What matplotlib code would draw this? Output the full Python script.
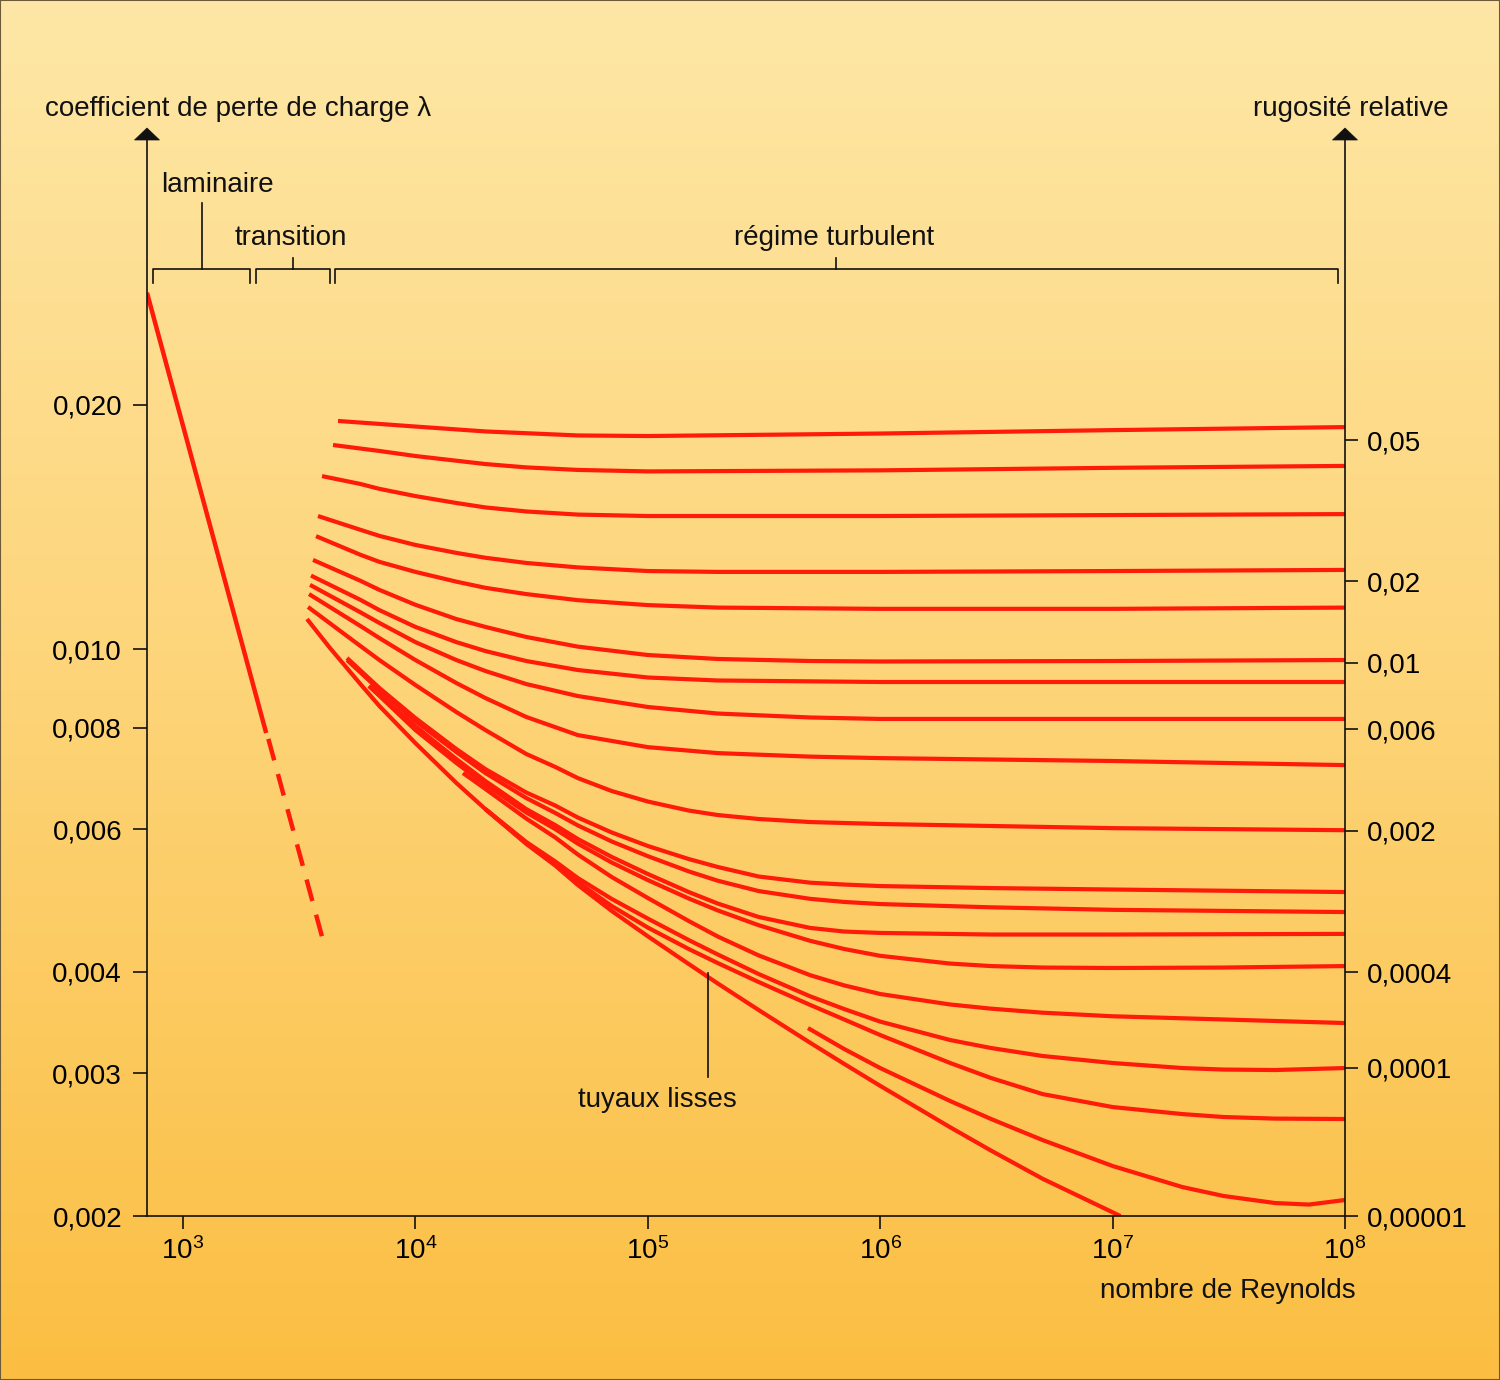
import numpy as np
import matplotlib
matplotlib.use("Agg")
import matplotlib.pyplot as plt
from matplotlib.patches import Polygon, Rectangle
from matplotlib.ticker import NullLocator

plt.rcParams['font.family'] = ['Liberation Sans', 'DejaVu Sans']
plt.rcParams['mathtext.fontset'] = 'custom'
plt.rcParams['mathtext.rm'] = 'Liberation Sans'
plt.rcParams['mathtext.it'] = 'Liberation Sans'

RED = '#ff1a0a'
INK = '#111111'
FS = 20

# axes ticks
re_ticks = [1e3, 1e4, 1e5, 1e6, 1e7, 1e8]
re_labels = ['$10^{3}$', '$10^{4}$', '$10^{5}$', '$10^{6}$', '$10^{7}$', '$10^{8}$']
lam_ticks = [0.002, 0.003, 0.004, 0.006, 0.008, 0.010, 0.020]
lam_labels = ['0,002', '0,003', '0,004', '0,006', '0,008', '0,010', '0,020']
rug_ticks = [0.002, 0.003045, 0.003998, 0.005967, 0.00797, 0.009614, 0.01213, 0.0181]
rug_labels = ['0,00001', '0,0001', '0,0004', '0,002', '0,006', '0,01', '0,02', '0,05']

# regimes (Reynolds bounds of the brackets)
regime_names = ['laminaire', 'transition', 'régime turbulent']
regime_bounds = [(740, 1950), (2060, 4300), (4500, 9.3e7)]

# laminar line
lam_re = [700, 2280]
lam_lam = [0.0275, 0.00788]
lam_dash_re = [2330, 4000]
lam_dash_lam = [0.00775, 0.00438]

# turbulent curves
c01_re = [4645, 7000, 1e4, 2e4, 5e4, 1e5, 1e6, 1e7, 1e8]
c01_lam = [0.01911, 0.01895, 0.01881, 0.01855, 0.01834, 0.01831, 0.01844, 0.01862, 0.01878]
c02_re = [4421, 7000, 1e4, 2e4, 3e4, 5e4, 1e5, 1e6, 1e7, 1e8]
c02_lam = [0.01785, 0.01755, 0.01730, 0.01691, 0.01675, 0.01663, 0.01656, 0.01661, 0.01673, 0.01682]
c03_re = [3964, 5800, 7000, 1e4, 1.5e4, 2e4, 3e4, 5e4, 1e5, 1e6, 1e7, 1e8]
c03_lam = [0.01634, 0.01598, 0.01576, 0.01544, 0.01514, 0.01495, 0.01478, 0.01465, 0.01459, 0.01459, 0.01463, 0.01467]
c04_re = [3809, 5800, 7000, 1e4, 1.5e4, 2e4, 3e4, 5e4, 1e5, 2e5, 1e6, 1e7, 1e8]
c04_lam = [0.01459, 0.01403, 0.01379, 0.01344, 0.01314, 0.01296, 0.01277, 0.01261, 0.01248, 0.01245, 0.01245, 0.01248, 0.01252]
c05_re = [3736, 5800, 7000, 1e4, 1.5e4, 2e4, 3e4, 5e4, 1e5, 2e5, 1e6, 1e7, 1e8]
c05_lam = [0.01378, 0.01307, 0.01281, 0.01245, 0.01211, 0.01190, 0.01169, 0.01149, 0.01133, 0.01125, 0.01121, 0.01121, 0.01125]
c06_re = [3626, 5800, 7000, 1e4, 1.5e4, 2e4, 3e4, 5e4, 1e5, 2e5, 5e5, 1e6, 1e7, 1e8]
c06_lam = [0.01288, 0.01214, 0.01183, 0.01134, 0.01089, 0.01065, 0.01035, 0.01007,
           0.009833, 0.009723, 0.009667, 0.009654, 0.009667, 0.009694]
c07_re = [3555, 5800, 7000, 1e4, 1.5e4, 2e4, 3e4, 5e4, 1e5, 2e5, 1e6, 1e7, 1e8]
c07_lam = [0.01232, 0.01150, 0.01117, 0.01065, 0.01020, 0.009945, 0.009667, 0.009423,
           0.009225, 0.009147, 0.009108, 0.009108, 0.009108]
c08_re = [3520, 5800, 7000, 1e4, 1.5e4, 2e4, 3e4, 5e4, 1e5, 2e5, 5e5, 1e6, 1e7, 1e8]
c08_lam = [0.01200, 0.01110, 0.01077, 0.01020, 0.009694, 0.009397, 0.009055, 0.008752,
           0.008484, 0.008328, 0.008235, 0.008201, 0.008201, 0.008201]
c09_re = [3485, 5800, 7000, 1e4, 1.5e4, 2e4, 3e4, 5e4, 1e5, 2e5, 5e5, 1e6, 1e7, 1e8]
c09_lam = [0.01169, 0.010677, 0.010318, 0.009694, 0.009082, 0.008703, 0.008247, 0.007833,
           0.007570, 0.007443, 0.007369, 0.007338, 0.007278, 0.007194]
c10_re = [3451, 5800, 7000, 1e4, 1.5e4, 2e4, 3e4, 4e4, 5e4, 7e4, 1e5, 1.5e5, 2e5, 3e5, 5e5, 1e6, 1e7, 1e8]
c10_lam = [0.01127, 0.010087, 0.009694, 0.009030, 0.008364, 0.007947, 0.007424, 0.007156, 0.006933,
           0.006683, 0.006487, 0.006323, 0.006243, 0.006173, 0.006120, 0.006086, 0.006015, 0.005980]
c11_re = [5079, 7000, 1e4, 1.5e4, 2e4, 3e4, 4e4, 5e4, 7e4, 1e5, 1.5e5, 2e5, 3e5, 5e5, 7e5, 1e6, 3e6, 1e7, 1e8]
c11_lam = [0.009750, 0.008954, 0.008222, 0.007530, 0.007113, 0.006655, 0.006413, 0.006199, 0.005941,
           0.005718, 0.005510, 0.005387, 0.005243, 0.005152, 0.005125, 0.005103, 0.005074, 0.005053, 0.005017]
c12_re = [5079, 7000, 1e4, 1.5e4, 2e4, 3e4, 4e4, 5e4, 7e4, 1e5, 1.5e5, 2e5, 3e5, 5e5, 7e5, 1e6, 3e6, 1e7, 1e8]
c12_lam = [0.009694, 0.008902, 0.008152, 0.007466, 0.007034, 0.006552, 0.006279, 0.006062, 0.005791,
           0.005555, 0.005320, 0.005181, 0.005031, 0.004921, 0.004878, 0.004849, 0.004804, 0.004770, 0.004740]
c13_re = [6316, 1e4, 1.5e4, 2e4, 3e4, 4e4, 5e4, 7e4, 1e5, 1.5e5, 2e5, 3e5, 5e5, 7e5, 1e6, 3e6, 1e7, 1e8]
c13_lam = [0.009005, 0.008036, 0.007319, 0.006876, 0.006349, 0.006066, 0.005832, 0.005542, 0.005281,
           0.005017, 0.004856, 0.004674, 0.004531, 0.004485, 0.004467, 0.004447, 0.004447, 0.004455]
c14_re = [6316, 1e4, 1.5e4, 2e4, 3e4, 4e4, 5e4, 7e4, 1e5, 1.5e5, 2e5, 3e5, 5e5, 7e5, 1e6, 2e6, 3e6,
          5e6, 1e7, 3e7, 1e8]
c14_lam = [0.009005, 0.007947, 0.007237, 0.006808, 0.006289, 0.005998, 0.005756, 0.005455, 0.005191,
           0.004926, 0.004762, 0.004566, 0.004368, 0.004268, 0.004186, 0.004095, 0.004066, 0.004049,
           0.004044, 0.004049, 0.004066]
c15_re = [16020, 2e4, 3e4, 4e4, 5e4, 7e4, 1e5, 1.5e5, 2e5, 3e5, 5e5, 7e5, 1e6, 2e6, 3e6, 5e6, 1e7, 3e7, 1e8]
c15_lam = [0.007034, 0.006723, 0.006181, 0.005857, 0.005581, 0.005235, 0.004933, 0.004621, 0.004422,
           0.004191, 0.003962, 0.003849, 0.003756, 0.003646, 0.003603, 0.003562, 0.003526, 0.003494, 0.003459]
c16_re = [2e4, 3e4, 4e4, 5e4, 7e4, 1e5, 1.5e5, 2e5, 3e5, 5e5, 7e5, 1e6, 2e6, 3e6, 5e6, 1e7, 2e7,
          3e7, 5e7, 1e8]
c16_lam = [0.006349, 0.005783, 0.005472, 0.005220, 0.004919, 0.004653, 0.004378, 0.004202, 0.003975,
           0.003731, 0.003599, 0.003473, 0.003296, 0.003222, 0.003150, 0.003088, 0.003044, 0.003031,
           0.003027, 0.003044]
c17_re = [2e4, 3e4, 4e4, 5e4, 7e4, 1e5, 1.5e5, 2e5, 3e5, 5e5, 7e5, 1e6, 2e6, 3e6, 5e6, 1e7, 2e7,
          3e7, 5e7, 1e8]
c17_lam = [0.006349, 0.005767, 0.005433, 0.005161, 0.004821, 0.004536, 0.004268, 0.004101, 0.003886,
           0.003641, 0.003494, 0.003343, 0.003088, 0.002959, 0.002827, 0.002725, 0.002671, 0.002649,
           0.002637, 0.002634]
c18_re = [489000, 7e5, 1e6, 2e6, 3e6, 5e6, 1e7, 2e7, 3e7, 5e7, 7e7, 1e8]
c18_lam = [0.003410, 0.003213, 0.003044, 0.002772, 0.002634, 0.002481, 0.002305, 0.002171, 0.002117,
           0.002075, 0.002066, 0.002093]
smooth_re = [3417, 4291, 5800, 7000, 1e4, 1.5e4, 2e4, 3e4, 4e4, 5e4, 7e4, 1e5, 1.5e5, 2e5, 3e5,
             5e5, 7e5, 1e6, 2e6, 3e6, 5e6, 1.08e7]
smooth_lam = [0.01089, 0.010030, 0.009055, 0.008508, 0.007657, 0.006839, 0.006349, 0.005751, 0.005408,
              0.005118, 0.004754, 0.004425, 0.004090, 0.003870, 0.003589, 0.003270, 0.003080, 0.002894,
              0.002573, 0.002408, 0.002223, 0.002]

curves = [(c01_re, c01_lam), (c02_re, c02_lam), (c03_re, c03_lam), (c04_re, c04_lam),
          (c05_re, c05_lam), (c06_re, c06_lam), (c07_re, c07_lam), (c08_re, c08_lam),
          (c09_re, c09_lam), (c10_re, c10_lam), (c11_re, c11_lam), (c12_re, c12_lam),
          (c13_re, c13_lam), (c14_re, c14_lam), (c15_re, c15_lam), (c16_re, c16_lam),
          (c17_re, c17_lam), (c18_re, c18_lam), (smooth_re, smooth_lam)]

W, H = 1500, 1380
fig = plt.figure(figsize=(W / 100, H / 100), dpi=100)

# background gradient
bg = fig.add_axes([0, 0, 1, 1], zorder=-10)
top = np.array([254, 231, 166]) / 255
mid = np.array([253, 212, 120]) / 255
bot = np.array([251, 190, 66]) / 255
t = np.linspace(0, 1, 256)[:, None]
grad = np.where(t < 0.5, top + (mid - top) * (t / 0.5), mid + (bot - mid) * ((t - 0.5) / 0.5))
bg.imshow(grad[:, None, :].repeat(2, axis=1), aspect='auto', extent=[0, 1, 0, 1])
bg.set_axis_off()

ax = fig.add_axes([147 / W, 1 - 1216 / H, 1198 / W, 1076 / H])
ax.patch.set_alpha(0)
ax.set_xscale('log')
ax.set_yscale('log')
ax.set_xlim(700, 1e8)
ax.set_ylim(0.002, 0.04243)

for s in ['left', 'right', 'bottom']:
    ax.spines[s].set_linewidth(1.2)
    ax.spines[s].set_color(INK)
ax.spines['top'].set_visible(False)

ax.set_xticks(re_ticks, re_labels)
ax.set_yticks(lam_ticks, lam_labels)
ax.xaxis.set_minor_locator(NullLocator())
ax.yaxis.set_minor_locator(NullLocator())
ax.tick_params(axis='x', length=9.5, width=1.2, pad=6, labelsize=FS, color=INK)
ax.tick_params(axis='y', length=10, width=1.2, pad=8, labelsize=FS, color=INK)

ax2 = ax.twinx()
ax2.set_yscale('log')
ax2.set_ylim(ax.get_ylim())
ax2.set_yticks(rug_ticks, rug_labels)
ax2.yaxis.set_minor_locator(NullLocator())
ax2.tick_params(axis='y', length=9.5, width=1.2, pad=6, labelsize=FS, color=INK)
for s in ax2.spines.values():
    s.set_visible(False)

# arrow heads on the vertical axes
hw = 12.5 / 1198
hh = 12 / 1076
for xa in (0, 1):
    ax.add_patch(Polygon([[xa - hw, 1.0], [xa + hw, 1.0], [xa, 1.0 + hh]],
                         closed=True, transform=ax.transAxes, clip_on=False,
                         facecolor=INK, edgecolor=INK, lw=0.5))

# curves
ax.plot(lam_re, lam_lam, color=RED, lw=3.2, solid_capstyle='butt')
ax.plot(lam_dash_re, lam_dash_lam, color=RED, lw=3.2, dashes=(5, 3.2), dash_capstyle='butt')
for re, lam in curves:
    ax.plot(re, lam, color=RED, lw=3.0, solid_capstyle='butt', solid_joinstyle='round')

# brackets
tr = ax.get_xaxis_transform()
y_br, y_tk = 0.880, 0.867
stem_tops = [0.9414, 0.8903, 0.8903]
for (a, b), st in zip(regime_bounds, stem_tops):
    ax.plot([a, a, b, b], [y_tk, y_br, y_br, y_tk], color=INK, lw=1.2, transform=tr, clip_on=False)
    mid_x = np.sqrt(a * b)
    ax.plot([mid_x, mid_x], [y_br, st], color=INK, lw=1.2, transform=tr, clip_on=False)

ax.text(1400, 0.958, regime_names[0], transform=tr, ha='center', va='center', fontsize=FS, color=INK)
ax.text(2920, 0.909, regime_names[1], transform=tr, ha='center', va='center', fontsize=FS, color=INK)
ax.text(6.3e5, 0.909, regime_names[2], transform=tr, ha='center', va='center', fontsize=FS, color=INK)

# smooth pipe pointer
ax.plot([1.82e5, 1.82e5], [0.00399, 0.002967], color=INK, lw=1.2)
ax.text(1.096e5, 0.00278, 'tuyaux lisses', ha='center', va='center', fontsize=FS, color=INK)

# axis titles
fig.text(45 / W, 1 - 109 / H, 'coefficient de perte de charge λ', ha='left', va='center', fontsize=FS, color=INK)
fig.text(1449 / W, 1 - 109 / H, 'rugosité relative', ha='right', va='center', fontsize=FS, color=INK)
fig.text(1356 / W, 1 - 1291 / H, 'nombre de Reynolds', ha='right', va='center', fontsize=FS, color=INK)

fig.patches.append(Rectangle((0, 0), 1, 1, transform=fig.transFigure, fill=False,
                             edgecolor='#6b5a3a', lw=1.5))

fig.savefig('out.png', dpi=100)
